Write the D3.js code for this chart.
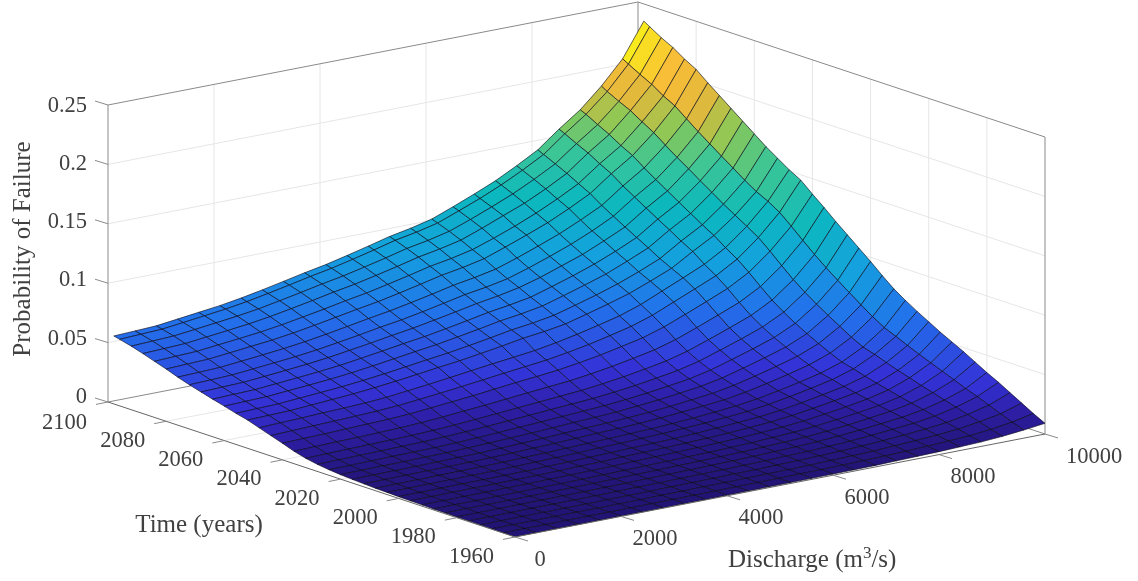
<!DOCTYPE html>
<html><head><meta charset="utf-8">
<script src="https://cdn.jsdelivr.net/npm/d3@7"></script>
<style>html,body{margin:0;padding:0;background:#fff;overflow:hidden}svg{display:block;filter:blur(0.35px)}text{font-family:"Liberation Serif",serif;fill:#404040}</style>
</head><body><svg id="c" width="1138" height="581"></svg>
<script>
// Discharge (m3/s) columns and time (year) rows of the surface, values are probability x 10^4
const discharge=[0,400,800,1200,1600,2000,2400,2800,3200,3600,4000,4400,4800,5200,5600,6000,6400,6800,7200,7600,8000,8400,8800,9200,9600,10000];
const years=[1960,1964,1968,1972,1976,1980,1984,1988,1992,1996,2000,2004,2008,2012,2016,2020,2024,2028,2032,2036,2040,2044,2048,2052,2056,2060,2064,2068,2072,2076,2080,2084,2088,2092,2096,2098];
const failureE4=[
[2,2,2,2,3,3,3,3,4,4,5,6,7,7,8,10,11,13,17,21,25,31,38,50,68,90],
[3,3,3,4,4,4,5,5,6,7,8,9,10,11,13,15,18,21,25,31,39,47,58,76,102,140],
[4,4,4,5,5,5,6,7,8,9,11,12,13,15,17,20,24,28,34,43,53,64,80,106,139,195],
[5,5,6,6,6,7,8,9,10,12,13,15,17,19,22,26,30,35,43,54,67,82,102,136,180,250],
[6,6,7,7,8,8,9,11,12,14,16,18,20,23,26,31,36,43,53,66,82,99,125,165,220,305],
[7,7,8,8,9,10,11,12,14,16,19,21,24,27,31,36,42,50,62,78,96,116,146,193,255,355],
[8,9,9,10,10,11,12,14,16,19,21,24,27,31,35,41,49,57,71,89,110,134,168,222,296,410],
[9,10,10,11,12,12,14,16,18,21,24,28,31,34,40,46,55,65,80,101,124,151,190,250,335,465],
[11,12,12,13,14,15,17,19,22,25,29,33,37,41,47,54,64,75,92,116,142,172,215,282,374,515],
[13,14,15,16,16,18,19,22,26,29,33,38,42,47,54,62,73,86,105,131,160,192,239,312,413,565],
[15,16,17,18,19,20,22,26,29,33,38,43,48,53,61,71,83,96,117,146,178,214,265,346,455,620],
[18,19,20,21,23,24,26,30,34,39,45,50,56,62,71,81,95,110,134,165,200,239,295,382,499,675],
[21,22,23,25,26,28,31,35,40,45,51,57,63,70,79,91,106,123,148,182,219,261,320,411,540,735],
[26,27,29,31,32,34,37,42,48,54,61,69,75,83,94,108,125,143,172,210,252,298,363,462,600,800],
[31,33,34,36,38,41,44,50,56,64,72,80,88,97,109,125,144,165,197,240,287,338,410,520,667,880],
[38,40,42,44,47,49,54,60,68,76,85,95,104,114,129,146,168,192,227,275,327,383,462,581,738,965],
[47,49,52,55,57,60,65,73,82,92,102,113,124,135,151,171,195,222,261,314,370,431,516,642,808,1045],
[60,63,66,69,72,76,82,91,101,113,125,138,150,163,181,203,230,260,303,361,421,487,577,710,882,1125],
[78,82,85,89,93,97,104,115,127,141,155,170,183,198,219,244,274,307,355,417,482,551,646,784,961,1205],
[105,109,114,118,123,128,137,150,165,180,197,214,230,246,270,298,332,368,420,487,557,629,728,869,1047,1290],
[140,145,150,156,162,168,178,194,211,228,248,268,285,304,331,362,399,438,494,565,638,714,815,958,1134,1370],
[172,178,184,190,197,204,216,233,252,272,293,315,335,356,385,418,458,501,560,636,712,789,894,1041,1218,1455],
[205,212,218,226,232,240,253,273,293,315,338,361,382,404,435,471,513,557,618,696,773,853,958,1103,1279,1510],
[238,242,247,259,272,285,302,322,344,368,389,416,444,475,497,526,574,624,678,747,821,928,1028,1164,1328,1575],
[262,267,272,285,298,312,330,351,375,399,422,450,480,512,536,566,616,668,726,794,870,983,1085,1224,1391,1640],
[290,295,300,314,328,343,362,385,410,436,460,490,521,555,580,612,664,719,777,850,928,1044,1148,1291,1462,1715],
[316,322,327,342,357,373,392,417,443,471,496,527,560,595,622,654,708,765,828,901,983,1103,1210,1356,1529,1790],
[344,350,356,371,387,404,425,451,478,507,534,567,601,637,666,702,753,815,877,956,1039,1163,1273,1424,1600,1865],
[372,378,385,401,418,435,457,484,513,544,571,605,642,680,708,744,800,863,930,1008,1097,1224,1336,1488,1670,1940],
[404,410,417,434,452,471,494,522,553,585,614,649,686,726,756,793,852,917,986,1067,1155,1285,1402,1559,1745,2015],
[440,447,454,472,491,510,535,565,597,630,660,697,737,778,809,848,911,977,1047,1131,1223,1355,1474,1632,1822,2095],
[472,480,487,506,525,545,571,602,634,669,700,738,778,821,852,892,953,1020,1095,1180,1274,1407,1525,1690,1874,2150],
[505,512,520,540,560,581,608,640,674,710,742,781,822,866,899,939,1005,1076,1146,1232,1328,1465,1586,1752,1939,2215],
[535,543,551,571,592,614,640,674,709,746,779,819,861,906,939,981,1046,1117,1192,1280,1376,1511,1637,1798,1990,2265],
[560,568,576,597,619,641,669,703,739,777,811,852,896,942,976,1018,1086,1156,1235,1324,1422,1562,1691,1848,2044,2325],
[572,580,588,610,632,654,683,717,754,792,826,868,912,958,993,1036,1105,1177,1254,1346,1445,1585,1713,1878,2073,2355]];
const zTicks=[0,0.05,0.1,0.15,0.2,0.25];
const zTickLabels=["0","0.05","0.1","0.15","0.2","0.25"];
const tTicks=[1960,1980,2000,2020,2040,2060,2080,2100];
const qTicks=[0,2000,4000,6000,8000,10000];

const svg=d3.select("#c");
const qx=d3.scaleLinear([0,10000],[0,530]), qy=d3.scaleLinear([0,10000],[0,-103]);
const tx=d3.scaleLinear([1960,2100],[0,-407]), ty=d3.scaleLinear([1960,2100],[0,-135]);
const zy=d3.scaleLinear([0,0.25],[0,-297]);
const ox=515, oy=537;
const P=(q,t,z)=>[ox+qx(q)+tx(t), oy+qy(q)+ty(t)+zy(z)];
const line=(a,b,col,w)=>svg.append("line").attr("x1",a[0]).attr("y1",a[1]).attr("x2",b[0]).attr("y2",b[1]).attr("stroke",col).attr("stroke-width",w);

const G="#e6e6e6", A="#8a8a8a";
zTicks.slice(1,-1).forEach(z=>{line(P(0,2100,z),P(10000,2100,z),G,1);line(P(10000,2100,z),P(10000,1960,z),G,1);});
qTicks.slice(1,-1).forEach(q=>{line(P(q,2100,0),P(q,2100,.25),G,1);line(P(q,2100,0),P(q,1960,0),G,1);});
tTicks.slice(1,-1).forEach(t=>{line(P(10000,t,0),P(10000,t,.25),G,1);line(P(0,t,0),P(10000,t,0),G,1);});
[[[0,2100,0],[10000,2100,0]],[[10000,2100,0],[10000,1960,0]],[[10000,2100,0],[10000,2100,.25]],
 [[0,2100,.25],[10000,2100,.25]],[[10000,2100,.25],[10000,1960,.25]],
 [[0,2100,0],[0,2100,.25]],[[10000,1960,0],[10000,1960,.25]]].forEach(e=>line(P(...e[0]),P(...e[1]),A,1));

// surface
const colorDomain=[0,0.0147,0.029,0.059,0.088,0.118,0.147,0.168,0.185,0.205,0.222];
const stops=[[34,20,115],[45,30,165],[52,50,215],[35,112,235],[20,160,222],[12,184,190],[60,198,150],[140,200,85],[225,185,60],[250,190,55],[249,240,25]];
const color=d3.scaleLinear().domain(colorDomain).range(stops.map(c=>d3.rgb(...c))).clamp(true);
const cells=[];
for(let i=years.length-2;i>=0;i--)for(let j=discharge.length-2;j>=0;j--)cells.push([i,j]);
const z=(i,j)=>failureE4[i][j]/1e4;
svg.append("g").selectAll("polygon").data(cells).join("polygon")
 .attr("points",([i,j])=>[[i,j],[i,j+1],[i+1,j+1],[i+1,j]].map(([a,b])=>P(discharge[b],years[a],z(a,b)).join(",")).join(" "))
 .attr("fill",([i,j])=>color((z(i,j)+z(i+1,j)+z(i,j+1)+z(i+1,j+1))/4))
 .attr("stroke","#0a0a1a").attr("stroke-opacity",.7).attr("stroke-width",.9).attr("stroke-linejoin","round");

line(P(0,2100,0),P(0,1960,0),"#666",1);line(P(0,1960,0),P(10000,1960,0),"#666",1);
const tk=(p,dx,dy)=>line(p,[p[0]+dx,p[1]+dy],A,1);
zTicks.forEach(v=>tk(P(0,2100,v),-13,-4));
tTicks.forEach(v=>tk(P(0,v,0),-12,2.4));
qTicks.forEach(v=>tk(P(v,1960,0),13,4));
const txt=(s,x,y,anchor)=>svg.append("text").attr("x",x).attr("y",y).attr("text-anchor",anchor).attr("font-size",22.5).text(s);
zTicks.forEach((v,i)=>{const p=P(0,2100,v);txt(zTickLabels[i],p[0]-21,p[1]+1+v*22,"end");});
tTicks.forEach(v=>{const p=P(0,v,0);txt(String(v),p[0]-21,p[1]+(v===2100?27:25.5),"end");});
qTicks.forEach(v=>{const p=P(v,1960,0);txt(String(v),p[0]+(v===0?25:v===10000?49:34),p[1]+28.5,"middle");});
svg.append("text").attr("transform","translate(30,249) rotate(-90)").attr("text-anchor","middle").attr("font-size",25).text("Probability of Failure");
svg.append("text").attr("x",199).attr("y",532).attr("text-anchor","middle").attr("font-size",25).text("Time (years)");
const d=svg.append("text").attr("x",728).attr("y",567).attr("font-size",25);
d.append("tspan").text("Discharge (m");d.append("tspan").attr("dy",-9).attr("font-size",17).text("3");d.append("tspan").attr("dy",9).text("/s)");
</script></body></html>
